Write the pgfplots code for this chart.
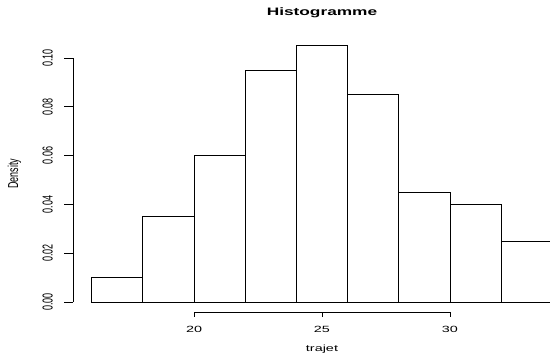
\documentclass[border=0pt]{standalone}
\usepackage{fontspec}
\setmainfont{Liberation Sans}
\usepackage{graphicx}
\usepackage{pgfplots}
\pgfplotsset{compat=1.18}
\newcommand{\sx}[1]{\scalebox{1.6}[1]{#1}}
\newcommand{\sy}[1]{\scalebox{1}[1.6]{#1}}
\begin{document}
\begin{tikzpicture}[x=1pt,y=1pt,font=\fontsize{9}{11}\selectfont]
\useasboundingbox (0,0) rectangle (550,355);
\begin{axis}[
  at={(73.2pt,42.8pt)}, anchor=south west,
  scale only axis, width=497.6pt, height=276.6pt,
  xmin=15.28, xmax=34.72, ymin=-0.0042, ymax=0.1092,
  hide axis, clip=false,
]
\addplot[ybar interval, fill=white, draw=black, line width=0.8pt] coordinates {
(16,0.010) (18,0.035) (20,0.060) (22,0.095) (24,0.105) (26,0.085) (28,0.045) (30,0.040) (32,0.025) (34,0.025)};
% x axis
\draw[line width=0.8pt] (axis cs:20,-0.0042) -- (axis cs:30,-0.0042);
\pgfplotsinvokeforeach{20,25,30}{
  \draw[line width=0.8pt] (axis cs:#1,-0.0042) -- ([yshift=-4.7pt]axis cs:#1,-0.0042);
  \node[anchor=center,inner sep=0pt] at ([yshift=-17.3pt]axis cs:#1,-0.0042) {\sx{#1}};
}
% y axis
\draw[line width=0.8pt] (axis cs:15.28,0) -- (axis cs:15.28,0.10);
\pgfplotsinvokeforeach{0.00,0.02,0.04,0.06,0.08,0.10}{
  \draw[line width=0.8pt] (axis cs:15.28,#1) -- ([xshift=-9.3pt]axis cs:15.28,#1);
  \node[rotate=90,anchor=center,inner sep=0pt] at ([xshift=-25.5pt]axis cs:15.28,#1) {\sy{#1}};
}
\end{axis}
\node[anchor=base,inner sep=0pt,font=\fontsize{10.8}{12}\selectfont\bfseries] at (322,339) {\sx{Histogramme}};
\node[anchor=base,inner sep=0pt] at (322,3) {\sx{trajet}};
\node[rotate=90,anchor=center,inner sep=0pt] at (14.5,181) {\sy{Density}};
\end{tikzpicture}
\end{document}
